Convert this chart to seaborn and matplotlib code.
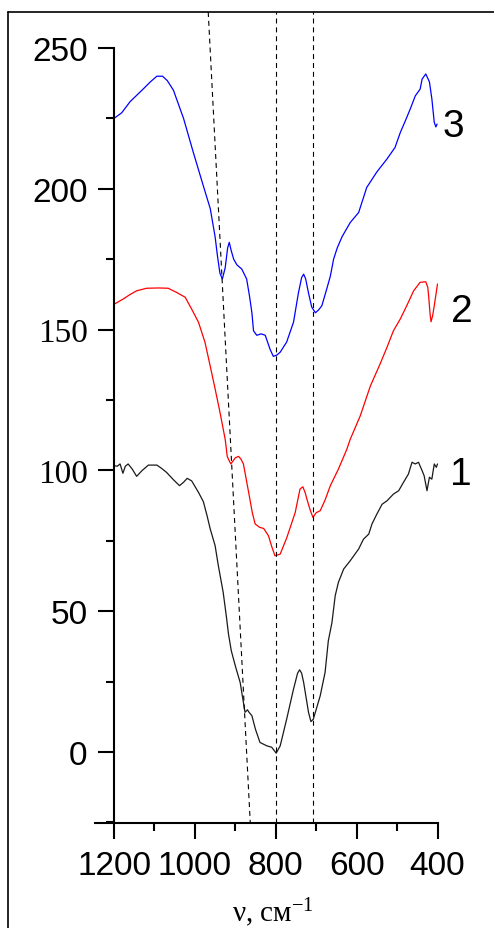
import matplotlib
matplotlib.use("Agg")
import matplotlib.pyplot as plt
import seaborn as sns
from matplotlib.lines import Line2D
from matplotlib.ticker import MultipleLocator

# ---- data (wavenumber, cm-1 / intensity) ----
wn3 = [1200, 1181, 1160, 1131, 1110, 1094, 1080, 1068, 1053, 1028, 1004, 979, 962, 950,
       944, 938, 932, 925, 919, 915, 910, 904, 896, 884, 872, 865, 859, 855, 847, 836,
       826, 814, 806, 797, 789, 773, 756, 744, 736, 731, 726, 719, 711, 702, 694, 686,
       674, 665, 657, 648, 636, 616, 595, 575, 550, 525, 505, 492, 480, 467, 455, 443,
       438, 429, 420, 414, 408, 404, 401]
t3 = [225, 227, 231, 235, 238, 240, 240, 238.4, 235, 225, 213, 201, 193, 183,
      176, 170, 168, 172, 179, 181, 178, 175, 173, 171.5, 168, 162, 156, 149.6, 148, 148.5,
      148, 143, 140.5, 141, 142, 145.6, 152.7, 163, 168.5, 169.7, 168, 163, 158, 156, 157, 158.5,
      164.4, 169, 175, 179, 183, 188, 191.6, 200.5, 206, 210.6, 214.7, 220, 224, 228.5, 233, 235.4,
      239, 240.8, 238, 232, 223.6, 222, 223]

wn2 = [1200, 1177, 1160, 1144, 1119, 1090, 1066, 1045, 1024, 1008, 991, 975, 962, 950,
       938, 925, 920, 917, 911, 900, 892, 886, 880, 867, 858, 851, 840, 830, 818, 810,
       802, 795, 789, 773, 752, 740, 733, 727, 723, 715, 708, 700, 690, 678, 665, 645,
       624, 616, 591, 566, 542, 525, 509, 492, 476, 459, 443, 429, 424, 422, 418, 416,
       412, 408, 400]
t2 = [159, 160.9, 162.5, 163.8, 164.7, 164.8, 164.7, 163.2, 161.5, 157.3, 152.6, 145.5, 137, 129,
      120.7, 111, 105, 104, 102.3, 104.5, 105, 104, 102.3, 92.2, 85, 81, 79.8, 79.4, 76.8, 73,
      69.7, 70, 70.3, 76, 85, 93.4, 94.2, 92, 89.8, 86, 83.3, 85, 85.7, 89.5, 94.6, 100.5,
      107.6, 111, 119.4, 130, 137.8, 143.7, 149.6, 153.8, 158.5, 163.8, 166.8, 167, 165, 162, 155, 152.8,
      155, 158.5, 166.2]

wn1 = [1200, 1192, 1185, 1178, 1172, 1165, 1155, 1144, 1131, 1115, 1094, 1082, 1070, 1053,
       1038, 1028, 1019, 1008, 991, 979, 970, 962, 950, 942, 930, 922, 917, 910, 900, 888,
       876, 870, 866, 859, 850, 839, 822, 810, 799, 789, 773, 756, 746, 741, 736, 731,
       719, 713, 707, 690, 678, 670, 661, 653, 645, 632, 616, 595, 583, 570, 562, 550,
       537, 525, 509, 496, 484, 472, 463, 455, 447, 438, 433, 426, 420, 414, 408, 403, 400]
t1 = [101.7, 101.5, 102.3, 99, 101.5, 102.3, 100.5, 97.9, 99.9, 101.9, 101.9, 100.7, 99.3, 96.7,
      94.6, 95.8, 97.2, 96.3, 92.2, 88.9, 84, 79.2, 73.3, 66.2, 56.7, 48, 42, 36, 30.6, 24.7,
      14.1, 15, 14.1, 12.9, 8, 3.4, 2.2, 1.7, -0.4, 2.2, 11.7, 22.4, 28, 29.2, 28, 24.7,
      14.1, 10.8, 11.7, 20, 28.3, 39.5, 46, 55.5, 60.3, 65, 67.9, 72.1, 75.6, 77.4, 81, 84.5,
      88, 89.2, 91.6, 92.8, 95.8, 98.7, 102.9, 102.3, 102.9, 99.9, 98.1, 92.8, 97.6, 96.9, 102.3, 101.1, 102.3]

curve_labels = ["3", "2", "1"]
curve_colors = ["#0000ff", "#ff0000", "#1a1a1a"]

guide_vertical = [800, 707]
guide_slant_x = [967, 863]
guide_slant_y = [262.8, -25.2]

y_ticks = [0, 50, 100, 150, 200, 250]
x_ticks = [1200, 1000, 800, 600, 400]

# ---- styling ----
sns.set_style("ticks")
plt.rcParams["font.family"] = ["Liberation Sans", "DejaVu Sans"]
plt.rcParams["mathtext.fontset"] = "custom"
plt.rcParams["mathtext.rm"] = "Liberation Serif"
plt.rcParams["mathtext.default"] = "rm"

W, H = 494, 929
fig = plt.figure(figsize=(W / 100, H / 100), dpi=100)
ax = fig.add_axes([95 / W, 1 - 824 / H, (437.5 - 95) / W, (824 - 13) / H])

for wn, t, c in [(wn3, t3, curve_colors[0]), (wn2, t2, curve_colors[1]), (wn1, t1, curve_colors[2])]:
    sns.lineplot(x=wn, y=t, color=c, lw=0.9, ax=ax, sort=False, estimator=None)

dash = (0, (4.5, 3.5))
for gx in guide_vertical:
    ax.axvline(gx, color="black", lw=0.8, ls=dash)
ax.plot(guide_slant_x, guide_slant_y, color="black", lw=0.8, ls=dash)

ax.set_xlim(1247, 400)
ax.set_ylim(-25.2, 262.8)

for s in ["top", "right"]:
    ax.spines[s].set_visible(False)
ax.spines["left"].set_position(("data", 1200))
ax.spines["left"].set_bounds(-25.2, 250)
for s in ["left", "bottom"]:
    ax.spines[s].set_linewidth(1.5)
    ax.spines[s].set_color("black")

ax.set_xticks(x_ticks)
ax.set_xticklabels([str(v) for v in x_ticks])
ax.set_yticks(y_ticks)
ax.set_yticklabels([str(v) for v in y_ticks])
ax.xaxis.set_minor_locator(MultipleLocator(100))
ax.yaxis.set_minor_locator(MultipleLocator(25))

ax.tick_params(axis="both", which="major", length=11.5, width=1.5, direction="out",
               labelsize=24, color="black", labelcolor="black")
ax.tick_params(axis="both", which="minor", length=6, width=1.5, direction="out", color="black")
ax.tick_params(axis="y", which="major", pad=7.5)
ax.tick_params(axis="x", which="major", pad=8)
for lbl in ax.get_yticklabels():
    if lbl.get_text() in ("150", "100"):
        lbl.set_fontfamily("Liberation Serif")

ax.set_xlabel("")
ax.set_ylabel("")

# curve numbers
for txt, (px, py) in zip(curve_labels, [(453, 137), (462, 322), (461, 485)]):
    fig.text(px / W, 1 - py / H, txt, fontsize=28, ha="center", va="baseline", color="black")

# axis title
fig.text(273 / W, 1 - 922 / H, "ν, см$^{-1}$", fontsize=21, ha="center", va="baseline",
         family="Liberation Serif", color="black")

# outer frame
fig.add_artist(Line2D([8 / W, 8 / W], [0, 1 - 13 / H], transform=fig.transFigure, color="black", lw=1.2))
fig.add_artist(Line2D([8 / W, 1], [1 - 13 / H, 1 - 13 / H], transform=fig.transFigure, color="black", lw=1.2))

fig.savefig("out.png", dpi=100)
